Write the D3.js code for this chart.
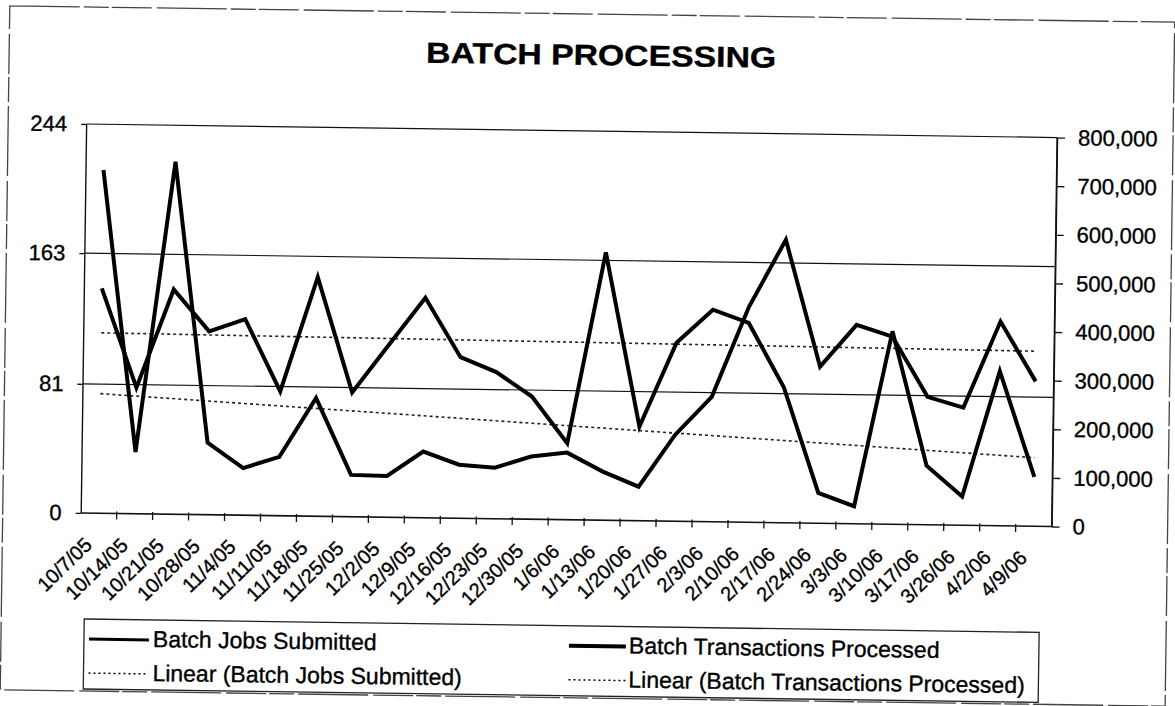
<!DOCTYPE html>
<html>
<head>
<meta charset="utf-8">
<script src="https://cdnjs.cloudflare.com/ajax/libs/d3/7.8.5/d3.min.js"></script>
<style>
    body { margin: 0; background: #fff; }
    svg text { font-family: "Liberation Sans", Arial, sans-serif; fill: #000; stroke: #000; stroke-width: 0.35px; }
</style>
</head>
<body>
<div id="chart"></div>
<script>
// weekly categories
var weeks = ["10/7/05", "10/14/05", "10/21/05", "10/28/05", "11/4/05", "11/11/05", "11/18/05",
    "11/25/05", "12/2/05", "12/9/05", "12/16/05", "12/23/05", "12/30/05", "1/6/06", "1/13/06",
    "1/20/06", "1/27/06", "2/3/06", "2/10/06", "2/17/06", "2/24/06", "3/3/06", "3/10/06",
    "3/17/06", "3/26/06", "4/2/06", "4/9/06"];

// left axis series
var jobsSubmitted = [141, 79, 141, 115, 123, 78, 150, 78, 108, 138, 101, 92, 77, 48, 168,
    59, 112, 133, 125, 85, 19, 11, 121, 37, 18, 97, 31];

// right axis series
var transactionsProcessed = [706000, 127000, 725000, 148000, 97000, 121000, 243000, 86000,
    85000, 136000, 110000, 105000, 129000, 138000, 100000, 70000, 178000, 257000, 443000,
    582000, 322000, 409000, 386000, 263000, 242000, 420000, 298000];

// trend lines, first and last week
var jobsTrend = [75, 43];
var transactionsTrend = [371000, 360000];

var leftTicks = [0, 81, 163, 244];
var rightTicks = [0, 100000, 200000, 300000, 400000, 500000, 600000, 700000, 800000];

var legendItems = [
    {label: "Batch Jobs Submitted", dotted: false, width: 3},
    {label: "Batch Transactions Processed", dotted: false, width: 4},
    {label: "Linear (Batch Jobs Submitted)", dotted: true, width: 1.5},
    {label: "Linear (Batch Transactions Processed)", dotted: true, width: 1.5}
];

var W = 1175, H = 706;
var plot = {left: 83, right: 1054, top: 131, bottom: 520};

var svg = d3.select("#chart").append("svg")
    .attr("width", W)
    .attr("height", H);

// the scan sits a little crooked
var g = svg.append("g")
    .attr("transform", "rotate(0.8,587,353)");

// broken page frame
g.append("rect")
    .attr("x", 5).attr("y", 14)
    .attr("width", 1165).attr("height", 684)
    .attr("fill", "none")
    .attr("stroke", "#444")
    .attr("stroke-width", 1.3)
    .attr("stroke-dasharray", "70,4,25,3,40,5");

var x = d3.scaleBand().domain(weeks).range([plot.left, plot.right]);
var yLeft = d3.scaleLinear().domain([0, 244]).range([plot.bottom, plot.top]);
var yRight = d3.scaleLinear().domain([0, 800000]).range([plot.bottom, plot.top]);

function cx(d) { return x(d) + x.bandwidth() / 2; }

// gridlines
g.append("g")
    .selectAll("line")
    .data(leftTicks.slice(1))
    .enter().append("line")
    .attr("x1", plot.left).attr("x2", plot.right)
    .attr("y1", function(d) { return yLeft(d); })
    .attr("y2", function(d) { return yLeft(d); })
    .attr("stroke", "#111")
    .attr("stroke-width", 1.2);

// right plot border
g.append("line")
    .attr("x1", plot.right).attr("x2", plot.right)
    .attr("y1", plot.top).attr("y2", plot.bottom)
    .attr("stroke", "#111").attr("stroke-width", 1.3);

// left axis
var leftAxis = g.append("g")
    .attr("transform", "translate(" + plot.left + ",0)")
    .call(d3.axisLeft(yLeft).tickValues(leftTicks).tickSize(5).tickPadding(14).tickSizeOuter(0));
leftAxis.selectAll("text").style("font-size", "22px");

// right axis
var rightAxis = g.append("g")
    .attr("transform", "translate(" + plot.right + ",0)")
    .call(d3.axisRight(yRight).tickValues(rightTicks).tickSize(8).tickPadding(13)
        .tickSizeOuter(0).tickFormat(d3.format(",")));
rightAxis.selectAll("text").style("font-size", "22px");

g.selectAll(".domain").attr("stroke", "#111").attr("stroke-width", 1.4);
g.selectAll(".tick line").attr("stroke", "#111").attr("stroke-width", 1.3);

// bottom axis, ticks between the weeks
var bottomAxis = g.append("g")
    .attr("transform", "translate(0," + plot.bottom + ")");
bottomAxis.append("line")
    .attr("x1", plot.left).attr("x2", plot.right)
    .attr("stroke", "#111").attr("stroke-width", 1.6);
bottomAxis.selectAll(".xtick")
    .data(weeks.slice(1))
    .enter().append("line")
    .attr("class", "xtick")
    .attr("x1", function(d) { return x(d); })
    .attr("x2", function(d) { return x(d); })
    .attr("y1", -2).attr("y2", 6)
    .attr("stroke", "#111").attr("stroke-width", 1.3);
bottomAxis.selectAll(".xlabel")
    .data(weeks)
    .enter().append("text")
    .attr("class", "xlabel")
    .attr("text-anchor", "end")
    .attr("transform", function(d) { return "translate(" + (cx(d) - 5) + ",33) rotate(-45)"; })
    .style("font-size", "20px")
    .text(function(d) { return d; });

// trend lines
var trendLine = d3.line();
var ends = [weeks[0], weeks[weeks.length - 1]];

g.append("path")
    .attr("d", trendLine(ends.map(function(d, i) { return [cx(d), yLeft(jobsTrend[i])]; })))
    .attr("fill", "none")
    .attr("stroke", "#222")
    .attr("stroke-width", 1.6)
    .attr("stroke-dasharray", "3,3");

g.append("path")
    .attr("d", trendLine(ends.map(function(d, i) { return [cx(d), yRight(transactionsTrend[i])]; })))
    .attr("fill", "none")
    .attr("stroke", "#222")
    .attr("stroke-width", 1.6)
    .attr("stroke-dasharray", "3,3");

// the two series
var jobsLine = d3.line()
    .x(function(d, i) { return cx(weeks[i]); })
    .y(function(d) { return yLeft(d); });

var transLine = d3.line()
    .x(function(d, i) { return cx(weeks[i]); })
    .y(function(d) { return yRight(d); });

g.append("path")
    .datum(jobsSubmitted)
    .attr("d", jobsLine)
    .attr("fill", "none")
    .attr("stroke", "#000")
    .attr("stroke-width", 4)
    .attr("stroke-linejoin", "miter");

g.append("path")
    .datum(transactionsProcessed)
    .attr("d", transLine)
    .attr("fill", "none")
    .attr("stroke", "#000")
    .attr("stroke-width", 4)
    .attr("stroke-linejoin", "miter");

// title
g.append("text")
    .attr("x", 597).attr("y", 65)
    .attr("text-anchor", "middle")
    .attr("textLength", 350)
    .attr("lengthAdjust", "spacingAndGlyphs")
    .style("font-size", "29px")
    .style("font-weight", "bold")
    .text("BATCH PROCESSING");

// legend
var legend = g.append("g");
legend.append("rect")
    .attr("x", 88).attr("y", 626)
    .attr("width", 955).attr("height", 70)
    .attr("fill", "none")
    .attr("stroke", "#222")
    .attr("stroke-width", 1.3);

var cols = [93, 573], rows = [646, 680];
var item = legend.selectAll(".item")
    .data(legendItems)
    .enter().append("g")
    .attr("class", "item")
    .attr("transform", function(d, i) {
        return "translate(" + cols[i % 2] + "," + rows[Math.floor(i / 2)] + ")";
    });

item.append("line")
    .attr("x1", 0).attr("x2", function(d, i) { return i % 2 ? 57 : 60; })
    .attr("stroke", "#000")
    .attr("stroke-width", function(d) { return d.width; })
    .attr("stroke-dasharray", function(d) { return d.dotted ? "2,3" : null; });

item.append("text")
    .attr("x", function(d, i) { return i % 2 ? 60 : 64; })
    .attr("y", 7)
    .style("font-size", "23px")
    .text(function(d) { return d.label; });
</script>
</body>
</html>
